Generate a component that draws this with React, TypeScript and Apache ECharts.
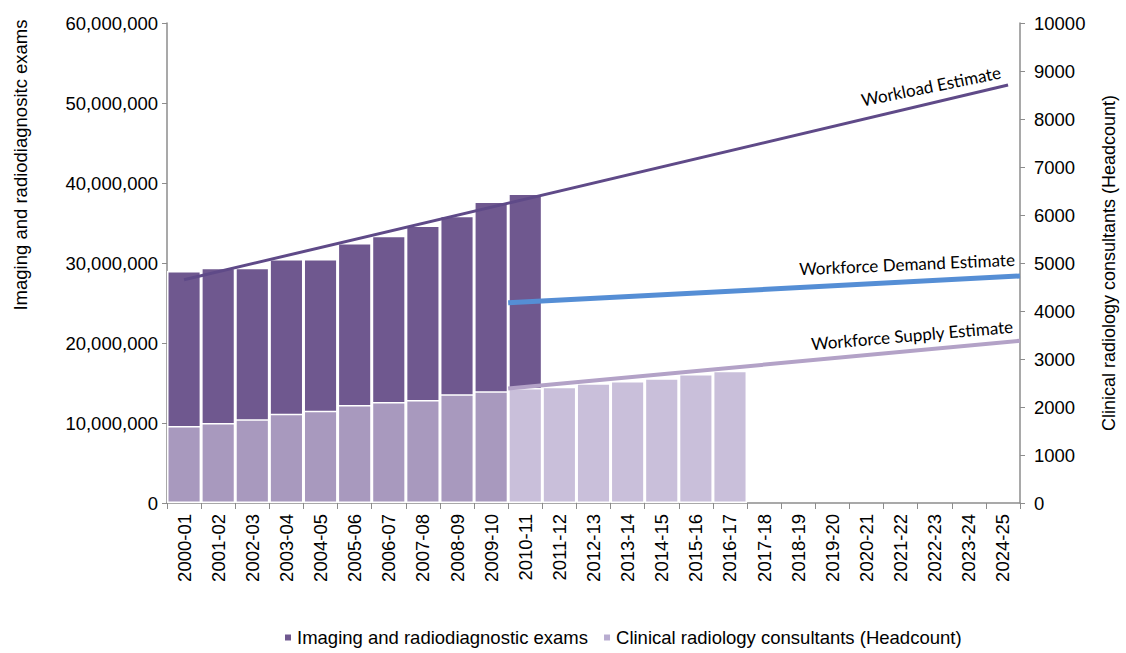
import React, { useEffect, useRef } from "react";
import * as echarts from "echarts";

const categories = [
  "2000-01", "2001-02", "2002-03", "2003-04", "2004-05", "2005-06", "2006-07",
  "2007-08", "2008-09", "2009-10", "2010-11", "2011-12", "2012-13", "2013-14",
  "2014-15", "2015-16", "2016-17", "2017-18", "2018-19", "2019-20", "2020-21",
  "2021-22", "2022-23", "2023-24", "2024-25",
];

const examValues = [
  29000000, 29400000, 29400000, 30500000, 30500000, 32500000, 33400000,
  34700000, 35900000, 37700000, 38700000,
];

const consultantValues = [
  1604, 1667, 1743, 1861, 1924, 2042, 2104, 2146, 2264, 2326, 2396, 2424,
  2493, 2542, 2597, 2688, 2757,
];
const consultantActualCount = 10; // first 10 years are actuals (darker)

// Estimate lines: [category position, value]
const workloadLine: [number, number][] = [[0.5, 27900000], [24.65, 52250000]];
const demandLine: [number, number][] = [[10, 4170], [25, 4730]];
const supplyLine: [number, number][] = [[10, 2385], [25, 3380]];

const leftTicks = { min: 0, max: 60000000, interval: 10000000 };
const rightTicks = { min: 0, max: 10000, interval: 1000 };

const TEXT_FONT = "Liberation Sans, Arial, sans-serif";
const LABEL_FONT = "Lato, Open Sans, sans-serif";
const FS = 18.5;

export default function App() {
  const ref = useRef<HTMLDivElement>(null);
  useEffect(() => {
    if (!ref.current) return;
    const chart = echarts.init(ref.current, undefined, { renderer: "svg" });
    const axisGrey = "#8c8c8c";
    const option: any = {
      animation: false,
      backgroundColor: "#ffffff",
      grid: { left: 167, right: 104, top: 23, bottom: 150, containLabel: false },
      legend: {
        top: 623,
        left: 278,
        icon: "rect",
        itemWidth: 8,
        itemHeight: 8,
        itemGap: 14,
        textStyle: { fontFamily: TEXT_FONT, fontSize: FS, color: "#000" },
        data: ["Imaging and radiodiagnostic exams", "Clinical radiology consultants (Headcount)"],
      },
      xAxis: [
        {
          type: "category",
          data: categories,
          boundaryGap: true,
          axisLine: { lineStyle: { color: axisGrey, width: 1.5 } },
          axisTick: { show: true, length: 6, lineStyle: { color: axisGrey } },
          axisLabel: {
            interval: 0,
            rotate: 90,
            margin: 11,
            fontFamily: TEXT_FONT,
            fontSize: FS,
            color: "#000",
          },
        },
        {
          type: "value",
          min: 0,
          max: 25,
          show: false,
        },
      ],
      yAxis: [
        {
          type: "value",
          ...leftTicks,
          position: "left",
          splitLine: { show: false },
          axisLine: { show: true, lineStyle: { color: axisGrey, width: 1.5 } },
          axisTick: { show: true, length: 5, lineStyle: { color: axisGrey } },
          axisLabel: {
            margin: 9,
            fontFamily: TEXT_FONT,
            fontSize: FS,
            color: "#000",
            formatter: (v: number) => v.toLocaleString("en-US"),
          },
        },
        {
          type: "value",
          ...rightTicks,
          position: "right",
          splitLine: { show: false },
          axisLine: { show: true, lineStyle: { color: axisGrey, width: 1.5 } },
          axisTick: { show: true, length: 5, lineStyle: { color: axisGrey } },
          axisLabel: {
            margin: 14,
            fontFamily: TEXT_FONT,
            fontSize: FS,
            color: "#000",
            formatter: (v: number) => String(v),
          },
          name: "Clinical radiology consultants (Headcount)",
          nameLocation: "middle",
          nameRotate: 90,
          nameGap: 80,
          nameTextStyle: { fontFamily: TEXT_FONT, fontSize: 18, color: "#000" },
        },
      ],
      series: [
        {
          name: "Imaging and radiodiagnostic exams",
          type: "bar",
          xAxisIndex: 0,
          yAxisIndex: 0,
          data: examValues,
          barWidth: "100%",
          barGap: "-100%",
          itemStyle: { color: "#6f588f", borderColor: "#ffffff", borderWidth: 1.5 },
          z: 2,
        },
        {
          name: "Clinical radiology consultants (Headcount)",
          type: "bar",
          xAxisIndex: 0,
          yAxisIndex: 1,
          data: consultantValues.map((v, i) => ({
            value: v,
            itemStyle: { color: i < consultantActualCount ? "#a899be" : "#c9bfda" },
          })),
          barWidth: "100%",
          barGap: "-100%",
          itemStyle: { color: "#b8acd0", borderColor: "#ffffff", borderWidth: 1.5 },
          z: 3,
        },
        {
          name: "Workload Estimate",
          type: "line",
          xAxisIndex: 1,
          yAxisIndex: 0,
          data: workloadLine,
          symbol: "none",
          lineStyle: { color: "#5f4a88", width: 3 },
          z: 5,
        },
        {
          name: "Workforce Demand Estimate",
          type: "line",
          xAxisIndex: 1,
          yAxisIndex: 1,
          data: demandLine,
          symbol: "none",
          lineStyle: { color: "#558ed5", width: 5 },
          z: 5,
        },
        {
          name: "Workforce Supply Estimate",
          type: "line",
          xAxisIndex: 1,
          yAxisIndex: 1,
          data: supplyLine,
          symbol: "none",
          lineStyle: { color: "#b3a2c7", width: 4 },
          z: 5,
        },
      ],
      graphic: [
        {
          type: "text",
          x: 20,
          y: 165,
          rotation: Math.PI / 2,
          style: {
            text: "Imaging and radiodiagnositc exams",
            fontFamily: TEXT_FONT,
            fontSize: FS,
            fill: "#000",
            align: "center",
            verticalAlign: "middle",
          },
        },
        {
          type: "text",
          x: 931,
          y: 86,
          rotation: (11.5 * Math.PI) / 180,
          style: {
            text: "Workload Estimate",
            fontFamily: LABEL_FONT,
            fontSize: 17,
            fill: "#000",
            align: "center",
            verticalAlign: "middle",
          },
        },
        {
          type: "text",
          x: 907,
          y: 264,
          rotation: (2.5 * Math.PI) / 180,
          style: {
            text: "Workforce Demand Estimate",
            fontFamily: LABEL_FONT,
            fontSize: 17,
            fill: "#000",
            align: "center",
            verticalAlign: "middle",
          },
        },
        {
          type: "text",
          x: 912,
          y: 335,
          rotation: (5 * Math.PI) / 180,
          style: {
            text: "Workforce Supply Estimate",
            fontFamily: LABEL_FONT,
            fontSize: 17,
            fill: "#000",
            align: "center",
            verticalAlign: "middle",
          },
        },
      ],
    };
    chart.setOption(option);
    return () => chart.dispose();
  }, []);
  return (
    <div
      ref={ref}
      style={{ position: "absolute", left: 0, top: 0, width: 1126, height: 653 }}
    />
  );
}
